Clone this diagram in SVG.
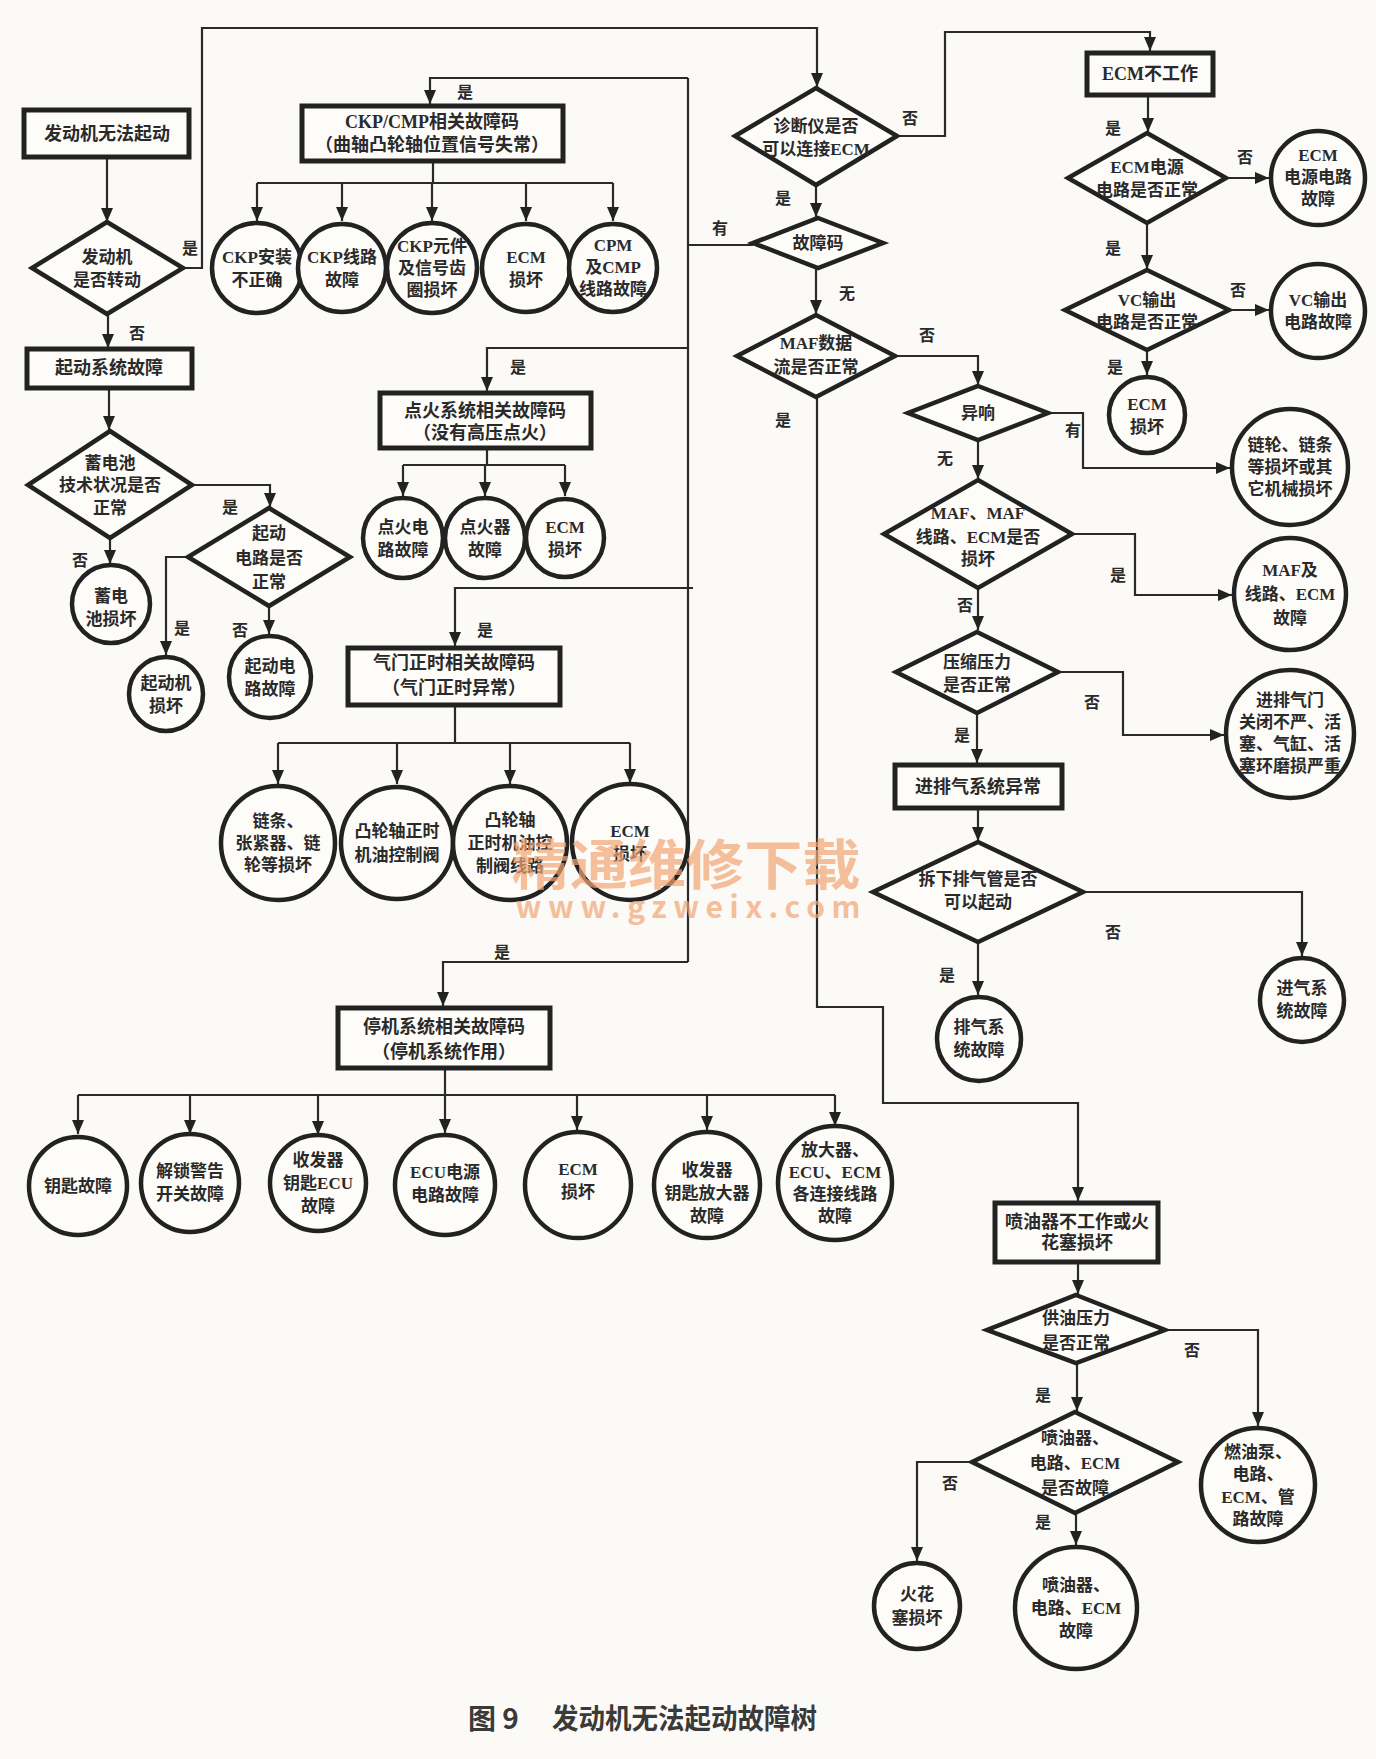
<svg xmlns="http://www.w3.org/2000/svg" width="1376" height="1759" viewBox="0 0 1376 1759">
<style>
.bg{fill:#fbfaf6}
.box{fill:#fdfcf9;stroke:#222;stroke-width:5}
.dia{fill:#fdfcf9;stroke:#222;stroke-width:4.5;stroke-linejoin:miter}
.cir{fill:#fdfcf9;stroke:#222;stroke-width:4.5}
.c{fill:none;stroke:#2a2a2a;stroke-width:2.2}
.a{fill:none;stroke:#2a2a2a;stroke-width:2.2;marker-end:url(#arr)}
text{font-family:"Liberation Serif","Noto Sans CJK SC",serif;font-weight:bold;fill:#2a2a2a;text-anchor:middle;dominant-baseline:central}
.t{font-size:17px}
.tb{font-size:18px}
.l{font-size:16px}
.wm{font-family:"Noto Sans CJK SC",sans-serif;font-weight:bold;fill:#f2a675;opacity:0.7}
.cap{font-family:"Noto Sans CJK SC",sans-serif;font-weight:bold;font-size:28px;fill:#3a3a3a;text-anchor:start}
</style>
<defs>
<marker id="arr" markerUnits="userSpaceOnUse" markerWidth="14" markerHeight="12" refX="14" refY="6" orient="auto">
<path d="M0,0 L14,6 L0,12 z" fill="#222"/>
</marker>
</defs>
<rect class="bg" x="0" y="0" width="1376" height="1759"/>

<g id="connectors">
<path class="a" d="M107,157 V222"/>
<path class="a" d="M183,268 H202 V28 H817 V87"/>
<path class="a" d="M108,314 V348"/>
<path class="a" d="M109,388 V430"/>
<path class="a" d="M110,538 V564"/>
<path class="a" d="M192,485 H270 V507"/>
<path class="a" d="M188,557 H166 V655"/>
<path class="a" d="M269,606 V634"/>
<path class="c" d="M753,245 H688"/>
<path class="c" d="M688,78 V962"/>
<path class="a" d="M688,78 H430 V104"/>
<path class="a" d="M688,348 H487 V391"/>
<path class="a" d="M693,588 H455 V646"/>
<path class="a" d="M688,962 H443 V1006"/>
<path class="c" d="M433,161 V183 M257,183 H613"/>
<path class="a" d="M257,183 V221"/>
<path class="a" d="M342,183 V221"/>
<path class="a" d="M432,183 V221"/>
<path class="a" d="M526,183 V221"/>
<path class="a" d="M613,183 V221"/>
<path class="c" d="M487,448 V465 M403,465 H565"/>
<path class="a" d="M403,465 V496"/>
<path class="a" d="M485,465 V496"/>
<path class="a" d="M565,465 V496"/>
<path class="c" d="M455,705 V743 M278,743 H630"/>
<path class="a" d="M278,743 V784"/>
<path class="a" d="M397,743 V784"/>
<path class="a" d="M510,743 V784"/>
<path class="a" d="M630,743 V783"/>
<path class="c" d="M445,1068 V1095 M78,1095 H835"/>
<path class="a" d="M78,1095 V1134"/>
<path class="a" d="M190,1095 V1134"/>
<path class="a" d="M318,1095 V1135"/>
<path class="a" d="M445,1095 V1133"/>
<path class="a" d="M577,1095 V1130"/>
<path class="a" d="M707,1095 V1130"/>
<path class="a" d="M835,1095 V1126"/>
<path class="a" d="M816,185 V217"/>
<path class="a" d="M816,268 V314"/>
<path class="a" d="M897,136 H945 V32 H1150 V51"/>
<path class="a" d="M1148,95 V132"/>
<path class="a" d="M1226,178 H1269"/>
<path class="a" d="M1147,223 V269"/>
<path class="a" d="M1229,310 H1269"/>
<path class="a" d="M1147,350 V375"/>
<path class="a" d="M895,356 H978 V385"/>
<path class="a" d="M1048,413 H1083 V468 H1230"/>
<path class="a" d="M978,440 V479"/>
<path class="a" d="M1072,534 H1135 V595 H1232"/>
<path class="a" d="M978,588 V630"/>
<path class="a" d="M1058,672 H1123 V735 H1224"/>
<path class="a" d="M977,713 V763"/>
<path class="a" d="M978,808 V841"/>
<path class="a" d="M1083,892 H1302 V956"/>
<path class="a" d="M978,942 V995"/>
<path class="a" d="M817,397 V1007 H883 V1103 H1078 V1201"/>
<path class="a" d="M1078,1262 V1294"/>
<path class="a" d="M1165,1330 H1258 V1426"/>
<path class="a" d="M1077,1363 V1411"/>
<path class="a" d="M972,1462 H917 V1561"/>
<path class="a" d="M1076,1513 V1545"/>
</g>

<g id="labels">
<text class="l" x="190" y="248">是</text>
<text class="l" x="137" y="333">否</text>
<text class="l" x="230" y="507">是</text>
<text class="l" x="80" y="560">否</text>
<text class="l" x="182" y="628">是</text>
<text class="l" x="240" y="630">否</text>
<text class="l" x="465" y="92">是</text>
<text class="l" x="720" y="228">有</text>
<text class="l" x="518" y="367">是</text>
<text class="l" x="485" y="630">是</text>
<text class="l" x="502" y="952">是</text>
<text class="l" x="910" y="118">否</text>
<text class="l" x="783" y="198">是</text>
<text class="l" x="847" y="293">无</text>
<text class="l" x="783" y="420">是</text>
<text class="l" x="927" y="335">否</text>
<text class="l" x="1113" y="128">是</text>
<text class="l" x="1245" y="157">否</text>
<text class="l" x="1113" y="248">是</text>
<text class="l" x="1238" y="290">否</text>
<text class="l" x="1115" y="367">是</text>
<text class="l" x="1073" y="430">有</text>
<text class="l" x="945" y="458">无</text>
<text class="l" x="1118" y="575">是</text>
<text class="l" x="965" y="605">否</text>
<text class="l" x="1092" y="702">否</text>
<text class="l" x="962" y="735">是</text>
<text class="l" x="1113" y="932">否</text>
<text class="l" x="947" y="975">是</text>
<text class="l" x="1192" y="1350">否</text>
<text class="l" x="1043" y="1395">是</text>
<text class="l" x="950" y="1483">否</text>
<text class="l" x="1043" y="1522">是</text>
</g>

<!-- Left column -->
<g id="n_start"><rect class="box" x="24" y="110" width="165" height="47"/><text class="tb" x="107" y="134">发动机无法起动</text></g>
<g id="n_turn"><polygon class="dia" points="107,222 183,268 107,314 32,268"/><text class="t" x="107" y="257">发动机</text><text class="t" x="107" y="280">是否转动</text></g>
<g id="n_startsys"><rect class="box" x="27" y="349" width="165" height="39"/><text class="tb" x="109" y="368">起动系统故障</text></g>
<g id="n_bat"><polygon class="dia" points="110,431 192,485 110,538 28,485"/><text class="t" x="110" y="463">蓄电池</text><text class="t" x="110" y="485">技术状况是否</text><text class="t" x="110" y="508">正常</text></g>
<g id="n_startc"><polygon class="dia" points="269,508 350,557 269,606 188,557"/><text class="t" x="269" y="533">起动</text><text class="t" x="269" y="558">电路是否</text><text class="t" x="269" y="582">正常</text></g>
<g id="n_batbad"><circle class="cir" cx="111" cy="604" r="39"/><text class="t" x="111" y="596">蓄电</text><text class="t" x="111" y="619">池损坏</text></g>
<g id="n_starter"><circle class="cir" cx="166" cy="694" r="37"/><text class="t" x="166" y="683">起动机</text><text class="t" x="166" y="706">损坏</text></g>
<g id="n_startcf"><circle class="cir" cx="270" cy="677" r="41"/><text class="t" x="270" y="666">起动电</text><text class="t" x="270" y="689">路故障</text></g>

<!-- CKP -->
<g id="n_ckp"><rect class="box" x="302" y="106" width="261" height="55"/><text class="tb" x="432" y="122">CKP/CMP相关故障码</text><text class="tb" x="432" y="145">（曲轴凸轮轴位置信号失常）</text></g>
<g id="n_ckp1"><circle class="cir" cx="257" cy="268" r="45"/><text class="t" x="257" y="257">CKP安装</text><text class="t" x="257" y="280">不正确</text></g>
<g id="n_ckp2"><circle class="cir" cx="342" cy="268" r="44"/><text class="t" x="342" y="257">CKP线路</text><text class="t" x="342" y="280">故障</text></g>
<g id="n_ckp3"><circle class="cir" cx="432" cy="268" r="45"/><text class="t" x="432" y="246">CKP元件</text><text class="t" x="432" y="268">及信号齿</text><text class="t" x="432" y="290">圈损坏</text></g>
<g id="n_ckp4"><circle class="cir" cx="526" cy="268" r="44"/><text class="t" x="526" y="257">ECM</text><text class="t" x="526" y="280">损坏</text></g>
<g id="n_ckp5"><circle class="cir" cx="613" cy="268" r="44"/><text class="t" x="613" y="245">CPM</text><text class="t" x="613" y="267">及CMP</text><text class="t" x="613" y="289">线路故障</text></g>

<!-- Ignition -->
<g id="n_ign"><rect class="box" x="380" y="393" width="211" height="55"/><text class="tb" x="485" y="411">点火系统相关故障码</text><text class="tb" x="485" y="433">（没有高压点火）</text></g>
<g id="n_ign1"><circle class="cir" cx="403" cy="538" r="40"/><text class="t" x="403" y="527">点火电</text><text class="t" x="403" y="550">路故障</text></g>
<g id="n_ign2"><circle class="cir" cx="485" cy="538" r="40"/><text class="t" x="485" y="527">点火器</text><text class="t" x="485" y="550">故障</text></g>
<g id="n_ign3"><circle class="cir" cx="565" cy="538" r="39"/><text class="t" x="565" y="527">ECM</text><text class="t" x="565" y="550">损坏</text></g>

<!-- Valve timing -->
<g id="n_valve"><rect class="box" x="348" y="648" width="212" height="57"/><text class="tb" x="454" y="663">气门正时相关故障码</text><text class="tb" x="454" y="688">（气门正时异常）</text></g>
<g id="n_val1"><circle class="cir" cx="278" cy="843" r="57"/><text class="t" x="278" y="821">链条、</text><text class="t" x="278" y="843">张紧器、链</text><text class="t" x="278" y="865">轮等损坏</text></g>
<g id="n_val2"><circle class="cir" cx="397" cy="843" r="56"/><text class="t" x="397" y="831">凸轮轴正时</text><text class="t" x="397" y="855">机油控制阀</text></g>
<g id="n_val3"><circle class="cir" cx="510" cy="843" r="57"/><text class="t" x="510" y="820">凸轮轴</text><text class="t" x="510" y="843">正时机油控</text><text class="t" x="510" y="866">制阀线路</text></g>
<g id="n_val4"><circle class="cir" cx="630" cy="842" r="58"/><text class="t" x="630" y="831">ECM</text><text class="t" x="630" y="854">损坏</text></g>

<!-- Immobilizer -->
<g id="n_stop"><rect class="box" x="338" y="1008" width="212" height="60"/><text class="tb" x="444" y="1027">停机系统相关故障码</text><text class="tb" x="444" y="1052">（停机系统作用）</text></g>
<g id="n_s1"><circle class="cir" cx="78" cy="1186" r="49"/><text class="t" x="78" y="1186">钥匙故障</text></g>
<g id="n_s2"><circle class="cir" cx="190" cy="1183" r="49"/><text class="t" x="190" y="1171">解锁警告</text><text class="t" x="190" y="1194">开关故障</text></g>
<g id="n_s3"><circle class="cir" cx="318" cy="1183" r="48"/><text class="t" x="318" y="1160">收发器</text><text class="t" x="318" y="1183">钥匙ECU</text><text class="t" x="318" y="1206">故障</text></g>
<g id="n_s4"><circle class="cir" cx="445" cy="1185" r="50"/><text class="t" x="445" y="1172">ECU电源</text><text class="t" x="445" y="1195">电路故障</text></g>
<g id="n_s5"><circle class="cir" cx="578" cy="1185" r="53"/><text class="t" x="578" y="1169">ECM</text><text class="t" x="578" y="1192">损坏</text></g>
<g id="n_s6"><circle class="cir" cx="707" cy="1185" r="53"/><text class="t" x="707" y="1170">收发器</text><text class="t" x="707" y="1193">钥匙放大器</text><text class="t" x="707" y="1216">故障</text></g>
<g id="n_s7"><circle class="cir" cx="835" cy="1183" r="57"/><text class="t" x="835" y="1150">放大器、</text><text class="t" x="835" y="1172">ECU、ECM</text><text class="t" x="835" y="1194">各连接线路</text><text class="t" x="835" y="1216">故障</text></g>

<!-- Center column -->
<g id="n_diag"><polygon class="dia" points="816,88 897,136 816,185 735,136"/><text class="t" x="816" y="126">诊断仪是否</text><text class="t" x="816" y="149">可以连接ECM</text></g>
<g id="n_code"><polygon class="dia" points="818,218 883,243 818,268 753,243"/><text class="t" x="818" y="243">故障码</text></g>
<g id="n_maf"><polygon class="dia" points="816,315 895,356 816,397 737,356"/><text class="t" x="816" y="343">MAF数据</text><text class="t" x="816" y="367">流是否正常</text></g>

<!-- ECM branch -->
<g id="n_ecmoff"><rect class="box" x="1087" y="53" width="126" height="42"/><text class="tb" x="1150" y="74">ECM不工作</text></g>
<g id="n_ecmpwr"><polygon class="dia" points="1147,133 1226,178 1147,223 1068,178"/><text class="t" x="1147" y="167">ECM电源</text><text class="t" x="1147" y="190">电路是否正常</text></g>
<g id="n_ecmpwrf"><circle class="cir" cx="1318" cy="178" r="47"/><text class="t" x="1318" y="155">ECM</text><text class="t" x="1318" y="177">电源电路</text><text class="t" x="1318" y="199">故障</text></g>
<g id="n_vc"><polygon class="dia" points="1147,270 1229,310 1147,350 1065,310"/><text class="t" x="1147" y="300">VC输出</text><text class="t" x="1147" y="322">电路是否正常</text></g>
<g id="n_vcf"><circle class="cir" cx="1318" cy="311" r="47"/><text class="t" x="1318" y="300">VC输出</text><text class="t" x="1318" y="322">电路故障</text></g>
<g id="n_ecmbad"><circle class="cir" cx="1147" cy="415" r="38"/><text class="t" x="1147" y="404">ECM</text><text class="t" x="1147" y="427">损坏</text></g>

<!-- MAF no branch -->
<g id="n_noise"><polygon class="dia" points="978,386 1048,413 978,440 908,413"/><text class="t" x="978" y="413">异响</text></g>
<g id="n_mech"><circle class="cir" cx="1290" cy="467" r="58"/><text class="t" x="1290" y="445">链轮、链条</text><text class="t" x="1290" y="467">等损坏或其</text><text class="t" x="1290" y="489">它机械损坏</text></g>
<g id="n_maf2"><polygon class="dia" points="978,480 1072,534 978,588 884,534"/><text class="t" x="978" y="513">MAF、MAF</text><text class="t" x="978" y="537">线路、ECM是否</text><text class="t" x="978" y="559">损坏</text></g>
<g id="n_maff"><circle class="cir" cx="1290" cy="594" r="56"/><text class="t" x="1290" y="570">MAF及</text><text class="t" x="1290" y="594">线路、ECM</text><text class="t" x="1290" y="618">故障</text></g>
<g id="n_comp"><polygon class="dia" points="977,632 1058,672 977,713 896,672"/><text class="t" x="977" y="662">压缩压力</text><text class="t" x="977" y="685">是否正常</text></g>
<g id="n_valvef"><circle class="cir" cx="1290" cy="734" r="64"/><text class="t" x="1290" y="700">进排气门</text><text class="t" x="1290" y="722">关闭不严、活</text><text class="t" x="1290" y="744">塞、气缸、活</text><text class="t" x="1290" y="766">塞环磨损严重</text></g>
<g id="n_intake"><rect class="box" x="895" y="765" width="167" height="43"/><text class="tb" x="978" y="787">进排气系统异常</text></g>
<g id="n_exh"><polygon class="dia" points="978,842 1083,892 978,942 873,892"/><text class="t" x="978" y="879">拆下排气管是否</text><text class="t" x="978" y="902">可以起动</text></g>
<g id="n_intf"><circle class="cir" cx="1302" cy="1000" r="42"/><text class="t" x="1302" y="988">进气系</text><text class="t" x="1302" y="1011">统故障</text></g>
<g id="n_exhf"><circle class="cir" cx="979" cy="1039" r="42"/><text class="t" x="979" y="1027">排气系</text><text class="t" x="979" y="1050">统故障</text></g>

<!-- Injector branch -->
<g id="n_inj"><rect class="box" x="995" y="1203" width="163" height="59"/><text class="tb" x="1077" y="1222">喷油器不工作或火</text><text class="tb" x="1077" y="1243">花塞损坏</text></g>
<g id="n_fuel"><polygon class="dia" points="1076,1295 1165,1330 1076,1363 987,1330"/><text class="t" x="1076" y="1318">供油压力</text><text class="t" x="1076" y="1343">是否正常</text></g>
<g id="n_pump"><circle class="cir" cx="1258" cy="1485" r="57"/><text class="t" x="1258" y="1452">燃油泵、</text><text class="t" x="1258" y="1474">电路、</text><text class="t" x="1258" y="1497">ECM、管</text><text class="t" x="1258" y="1519">路故障</text></g>
<g id="n_injd"><polygon class="dia" points="1075,1412 1178,1462 1075,1513 972,1462"/><text class="t" x="1075" y="1438">喷油器、</text><text class="t" x="1075" y="1463">电路、ECM</text><text class="t" x="1075" y="1488">是否故障</text></g>
<g id="n_plug"><circle class="cir" cx="917" cy="1606" r="43"/><text class="t" x="917" y="1594">火花</text><text class="t" x="917" y="1618">塞损坏</text></g>
<g id="n_injf"><circle class="cir" cx="1076" cy="1608" r="61"/><text class="t" x="1076" y="1585">喷油器、</text><text class="t" x="1076" y="1608">电路、ECM</text><text class="t" x="1076" y="1631">故障</text></g>

<!-- watermark -->
<text class="wm" x="686" y="861" font-size="54" textLength="349" lengthAdjust="spacingAndGlyphs">精通维修下载</text>
<text class="wm" x="688" y="905" font-size="30" textLength="345" lengthAdjust="spacing">www.gzweix.com</text>

<!-- caption -->
<text class="cap" x="468" y="1717">图 9</text>
<text class="cap" x="552" y="1717" textLength="265" lengthAdjust="spacingAndGlyphs">发动机无法起动故障树</text>
</svg>
